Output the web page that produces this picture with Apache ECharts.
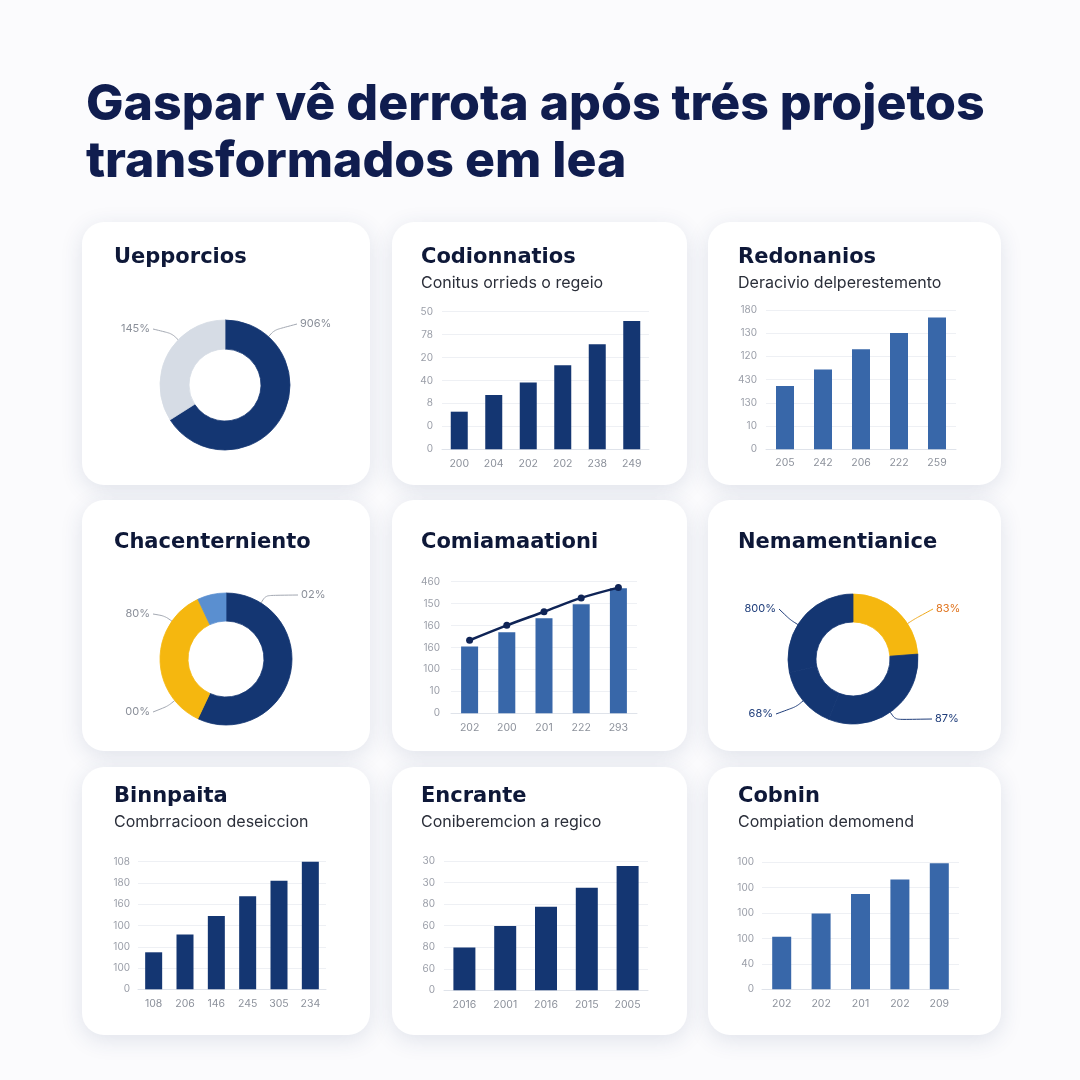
<!DOCTYPE html>
<html><head><meta charset="utf-8">
<script src="https://cdn.jsdelivr.net/npm/echarts@6/dist/echarts.min.js"></script>
<style>html,body{margin:0;padding:0;background:#fbfbfd}#c{width:1080px;height:1080px}</style>
</head><body><div id="c"></div>
<script>
// ---------- DATA ----------
const mainTitle = 'Gaspar vê derrota após trés projetos\ntransformados em lea';

const p1Title = 'Uepporcios';
const p1Values = [66, 34];
const p1Labels = ['906%', '145%'];

const p2Title = 'Codionnatios', p2Sub = 'Conitus orrieds o regeio';
const p2Cats = ['200', '204', '202', '202', '238', '249'];
const p2Values = [16.4, 23.7, 29.1, 36.6, 45.8, 55.9];
const p2Ticks = ['0', '0', '8', '40', '20', '78', '50'];

const p3Title = 'Redonanios', p3Sub = 'Deracivio delperestemento';
const p3Cats = ['205', '242', '206', '222', '259'];
const p3Values = [27.3, 34.4, 43.1, 50.1, 56.8];
const p3Ticks = ['0', '10', '130', '430', '120', '130', '180'];

const p4Title = 'Chacenterniento';
const p4Values = [57, 36, 7];
const p4Labels = ['02%', '00%', '80%'];

const p5Title = 'Comiamaationi';
const p5Cats = ['202', '200', '201', '222', '293'];
const p5Bars = [30.4, 36.9, 43.3, 49.7, 57.0];
const p5Line = [33.3, 40.1, 46.3, 52.6, 57.3];
const p5Ticks = ['0', '10', '100', '160', '160', '150', '460'];

const p6Title = 'Nemamentianice';
const p6Values = [23.8, 32.3, 15.6, 28.3];
const p6Labels = ['83%', '87%', '68%', '800%'];

const p7Title = 'Binnpaita', p7Sub = 'Combrracioon deseiccion';
const p7Cats = ['108', '206', '146', '245', '305', '234'];
const p7Values = [17.4, 25.8, 34.5, 43.7, 51.1, 60.0];
const p7Ticks = ['0', '100', '100', '100', '160', '180', '108'];

const p8Title = 'Encrante', p8Sub = 'Coniberemcion a regico';
const p8Cats = ['2016', '2001', '2016', '2015', '2005'];
const p8Values = [19.9, 29.8, 38.8, 47.6, 57.7];
const p8Ticks = ['0', '60', '80', '60', '80', '30', '30'];

const p9Title = 'Cobnin', p9Sub = 'Compiation demomend';
const p9Cats = ['202', '202', '201', '202', '209'];
const p9Values = [20.7, 29.8, 37.5, 43.2, 49.6];
const p9Ticks = ['0', '40', '100', '100', '100', '100'];

// ---------- STYLE / LAYOUT ----------
const NAVY = '#143672', BLUE = '#3867a9', YELLOW = '#f5b70f', LBLUE = '#5a8fd0', RINGGRAY = '#d6dce5';
const TITLE_C = '#0e1838', FONT = 'Inter, "Noto Sans", sans-serif';
const HEAD_FONT = '"DejaVu Sans", Inter, sans-serif';

const cardRects = [
  [82, 222, 288, 263], [392, 222, 295, 263], [708, 222, 293, 263],
  [82, 500, 288, 251], [392, 500, 295, 251], [708, 500, 293, 251],
  [82, 767, 288, 268], [392, 767, 295, 268], [708, 767, 293, 268]
];

const panelTitles = [
  { text: p1Title, left: 114, top: 246 },
  { text: p2Title, subtext: p2Sub, left: 421, top: 246 },
  { text: p3Title, subtext: p3Sub, left: 738, top: 246 },
  { text: p4Title, left: 114, top: 531 },
  { text: p5Title, left: 421, top: 531 },
  { text: p6Title, left: 738, top: 531 },
  { text: p7Title, subtext: p7Sub, left: 114, top: 785 },
  { text: p8Title, subtext: p8Sub, left: 421, top: 785 },
  { text: p9Title, subtext: p9Sub, left: 738, top: 785 }
];

const barPanels = [
  { grid: { left: 442, top: 311.7, width: 207, height: 137.6 }, cats: p2Cats, vals: p2Values, ticks: p2Ticks, max: 60, color: NAVY, bw: 17, ym: 9, xm: 9 },
  { grid: { left: 766, top: 310, width: 190, height: 139.3 }, cats: p3Cats, vals: p3Values, ticks: p3Ticks, max: 60, color: BLUE, bw: 18, ym: 9, xm: 8 },
  { grid: { left: 451, top: 581.7, width: 186, height: 131.6 }, cats: p5Cats, vals: p5Bars, ticks: p5Ticks, max: 60, color: BLUE, bw: 17, ym: 11, xm: 9 },
  { grid: { left: 138, top: 861.7, width: 188, height: 127.6 }, cats: p7Cats, vals: p7Values, ticks: p7Ticks, max: 60, color: NAVY, bw: 17, ym: 8, xm: 9 },
  { grid: { left: 444, top: 861, width: 204, height: 129.3 }, cats: p8Cats, vals: p8Values, ticks: p8Ticks, max: 60, color: NAVY, bw: 22, ym: 9, xm: 9 },
  { grid: { left: 762, top: 862.3, width: 197, height: 127 }, cats: p9Cats, vals: p9Values, ticks: p9Ticks, max: 50, color: BLUE, bw: 19, ym: 8, xm: 9 }
];

// label placement for donuts (angle where leader leaves ring, label anchor)
const p1LabelPos = [{ a: 42, x: 300, y: 324, align: 'left' }, { a: 314, x: 150, y: 329, align: 'right' }];
const p4LabelPos = [{ a: 32, x: 301, y: 595, align: 'left' }, { a: 231, x: 150, y: 712, align: 'right' }, { a: 305, x: 150, y: 614, align: 'right' }];
const p6LabelPos = [{ a: 57, x: 936, y: 609, align: 'left' }, { a: 145, x: 935, y: 719, align: 'left' }, { a: 230, x: 773, y: 714, align: 'right' }, { a: 302, x: 776, y: 609, align: 'right' }];

function ringLayout(cx, cy, r, spec) {
  return function (p) {
    const s = spec[p.dataIndex];
    const a = s.a * Math.PI / 180;
    const sx = cx + r * Math.sin(a), sy = cy - r * Math.cos(a);
    const mx = sx + 9 * Math.sin(a), my = sy - 9 * Math.cos(a);
    const ex = s.align === 'left' ? s.x - 3 : s.x + 3;
    return { x: s.x, y: s.y, align: s.align, verticalAlign: 'middle', labelLinePoints: [[sx, sy], [mx, my], [ex, s.y]] };
  };
}

function donut(center, radius, values, labels, colors, spec, labelColors, lineColors) {
  return {
    type: 'pie', center: center, radius: radius, startAngle: 90, clockwise: true,
    avoidLabelOverlap: false, silent: true, padAngle: 0,
    data: values.map((v, i) => ({
      value: v,
      itemStyle: { color: colors[i], borderColor: colors[i], borderWidth: 0.8 },
      label: { color: labelColors ? labelColors[i] : '#8a8f99' },
      labelLine: { lineStyle: { color: lineColors ? lineColors[i] : '#a3a8b2' } }
    })),
    label: { show: true, position: 'outside', fontSize: 11, fontFamily: FONT, formatter: p => labels[p.dataIndex] },
    labelLine: { show: true, smooth: 0.3, lineStyle: { width: 1 } },
    labelLayout: ringLayout(center[0], center[1], radius[1], spec)
  };
}

// ---------- OPTION ----------
const option = {
  backgroundColor: '#fbfbfd',
  animation: false,
  textStyle: { fontFamily: FONT },
  graphic: cardRects.map(r => ({
    type: 'rect', z: -10, silent: true,
    shape: { x: r[0], y: r[1], width: r[2], height: r[3], r: 22 },
    style: { fill: '#ffffff', shadowBlur: 22, shadowOffsetY: 5, shadowColor: 'rgba(40,60,110,0.13)' }
  })),
  title: [{
    text: mainTitle, left: 86, top: 76, padding: 0,
    textStyle: { fontSize: 50, lineHeight: 57, fontWeight: 800, color: '#101d4f', fontFamily: FONT }
  }].concat(panelTitles.map(t => ({
    text: t.text, subtext: t.subtext || '', left: t.left, top: t.top, padding: 0, itemGap: 4,
    textStyle: { fontSize: 21, lineHeight: 24, fontWeight: 'bold', color: TITLE_C, fontFamily: HEAD_FONT },
    subtextStyle: { fontSize: 16, lineHeight: 19, color: '#2b2f3a', fontFamily: FONT }
  }))),
  grid: barPanels.map(b => Object.assign({ containLabel: false }, b.grid)),
  xAxis: barPanels.map((b, i) => ({
    type: 'category', gridIndex: i, data: b.cats,
    axisLine: { show: true, lineStyle: { color: '#dfe3ea' } },
    axisTick: { show: false },
    axisLabel: { color: '#8c919b', fontSize: 10.5, margin: b.xm, fontFamily: FONT }
  })),
  yAxis: barPanels.map((b, i) => ({
    type: 'value', gridIndex: i, min: 0, max: b.max, interval: 10,
    axisLine: { show: false }, axisTick: { show: false },
    splitLine: { lineStyle: { color: '#eef0f4' } },
    axisLabel: { color: '#9a9ea8', fontSize: 10, margin: b.ym, fontFamily: FONT, formatter: v => b.ticks[Math.round(v / 10)] }
  })),
  series: [].concat(
    barPanels.map((b, i) => ({
      type: 'bar', xAxisIndex: i, yAxisIndex: i, data: b.vals, barWidth: b.bw,
      itemStyle: { color: b.color }, silent: true
    })),
    [{
      type: 'line', xAxisIndex: 2, yAxisIndex: 2, data: p5Line, smooth: 0.35,
      symbol: 'circle', symbolSize: 7, z: 5, silent: true,
      itemStyle: { color: '#0f2456' }, lineStyle: { color: '#0f2456', width: 2.5 }
    }],
    [
      donut([225, 385], [36, 65], p1Values, p1Labels, [NAVY, RINGGRAY], p1LabelPos),
      donut([226, 659], [38, 66], p4Values, p4Labels, [NAVY, YELLOW, LBLUE], p4LabelPos),
      donut([853, 659], [37, 65], p6Values, p6Labels, [YELLOW, NAVY, NAVY, NAVY], p6LabelPos,
        ['#e07520', '#1f3d7a', '#1f3d7a', '#1f3d7a'], ['#f0a818', '#1f3d7a', '#1f3d7a', '#1f3d7a'])
    ]
  )
};

const chart = echarts.init(document.getElementById('c'), null, { renderer: 'canvas', width: 1080, height: 1080 });
chart.setOption(option);
</script>
</body></html>
